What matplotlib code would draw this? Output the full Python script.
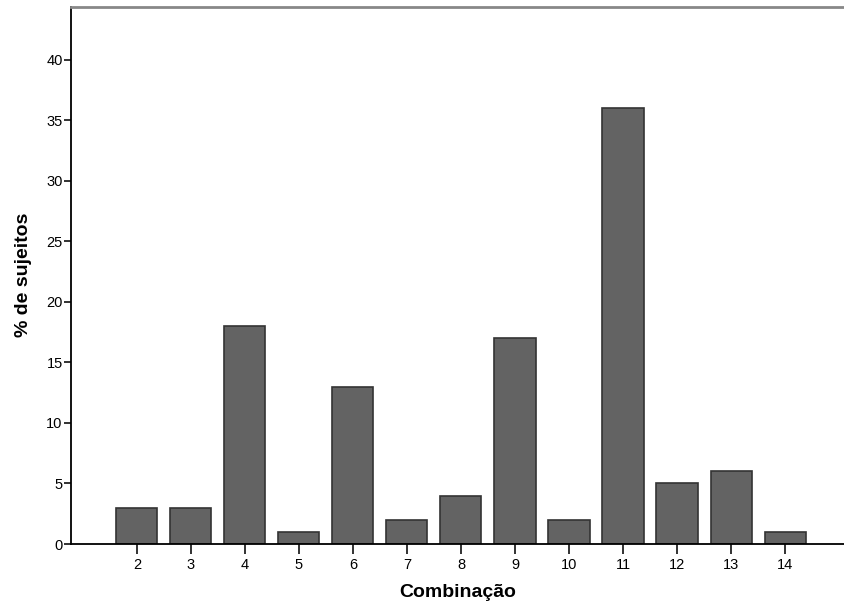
import matplotlib.pyplot as plt

# dados
combinacoes = [2, 3, 4, 5, 6, 7, 8, 9, 10, 11, 12, 13, 14]
percentagens = [3, 3, 18, 1, 13, 2, 4, 17, 2, 36, 5, 6, 1]
y_ticks = [0, 5, 10, 15, 20, 25, 30, 35, 40]

plt.rcParams['font.family'] = ['Liberation Sans', 'DejaVu Sans']

fig = plt.figure(figsize=(8.45, 6.09), dpi=100)
ax = fig.add_axes([71 / 845, 65 / 609, 1 - 71 / 845, (544 - 6.5) / 609])

ax.bar(combinacoes, percentagens, width=0.76, color='#636363',
       edgecolor='#333333', linewidth=1.2)

ax.set_xlim(0.78, 15.11)
ax.set_ylim(0, 44.4)
ax.set_xticks(combinacoes)
ax.set_yticks(y_ticks)
ax.tick_params(axis='both', labelsize=10.5, color='#222222', width=1.3)
ax.tick_params(axis='x', length=7, pad=3)
ax.tick_params(axis='y', length=5, pad=1)

ax.spines['right'].set_visible(False)
ax.spines['top'].set_color('#888888')
ax.spines['top'].set_linewidth(2)
ax.spines['left'].set_linewidth(1.3)
ax.spines['bottom'].set_linewidth(1.3)

ax.set_xlabel('Combinação', fontsize=14, fontweight='bold', labelpad=9)
ax.set_ylabel('% de sujeitos', fontsize=14, fontweight='bold', labelpad=10)

plt.savefig('out.png', dpi=100)
